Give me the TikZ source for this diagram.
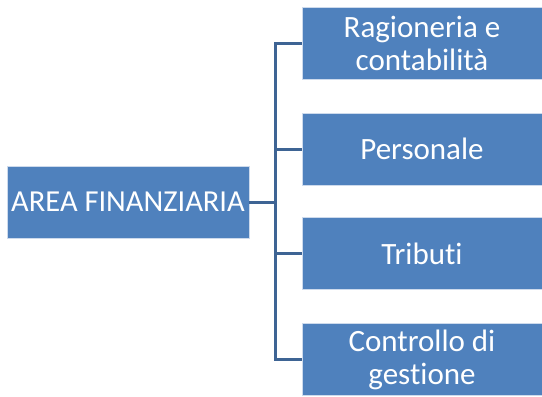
\documentclass[tikz,border=0pt]{standalone}
\usepackage{fontspec}
\setmainfont[Ligatures=NoCommon]{Carlito}
\definecolor{boxblue}{RGB}{79,129,189}
\definecolor{lineblue}{RGB}{62,100,148}
\definecolor{edge}{RGB}{205,218,236}
\begin{document}
\begin{tikzpicture}[x=1pt,y=-1pt,
  box/.style={draw=edge,line width=0.8pt,fill=boxblue,text=white,align=center,inner sep=0pt,
    font=\fontsize{31}{33}\selectfont},
  conn/.style={draw=lineblue,line width=3pt}]
\useasboundingbox (0,0) rectangle (542,397);
\node[box,minimum width=242pt,minimum height=72pt,font=\fontsize{30.5}{33}\selectfont] (area) at (128,202) {AREA FINANZIARIA};
\node[box,minimum width=240pt,minimum height=72pt] (r1) at (422,43) {Ragioneria e\\contabilità};
\node[box,minimum width=240pt,minimum height=72pt] (r2) at (422,149) {Personale};
\node[box,minimum width=240pt,minimum height=72pt] (r3) at (422,253.5) {Tributi};
\node[box,minimum width=240pt,minimum height=72pt] (r4) at (422,359.5) {Controllo di\\gestione};
\coordinate (j) at (275,202);
\draw[conn] (area.east) -- (j);
\draw[conn] (r1.west) -- (r1.west -| j) -- (r4.west -| j) -- (r4.west);
\draw[conn] (r2.west) -- (r2.west -| j);
\draw[conn] (r3.west) -- (r3.west -| j);
\end{tikzpicture}
\end{document}
